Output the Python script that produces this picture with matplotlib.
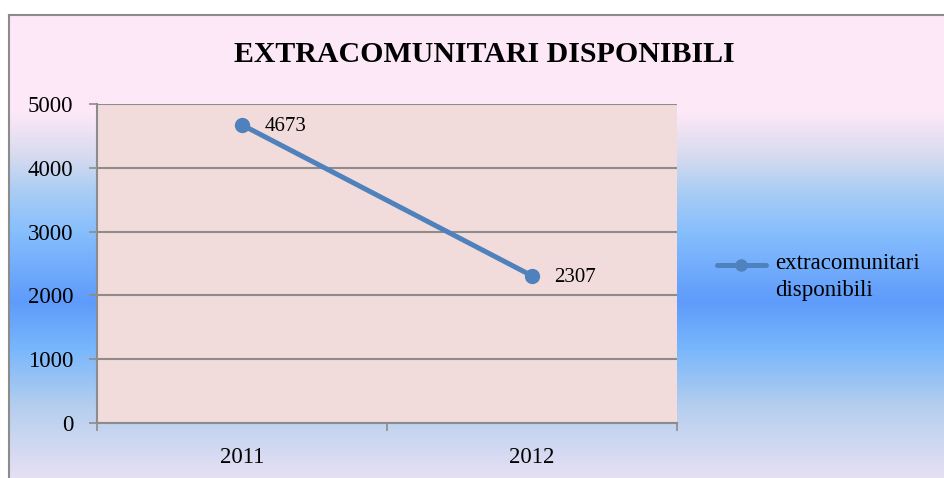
#!/usr/bin/env python3

import numpy as np
import matplotlib
matplotlib.use("Agg")
import matplotlib.pyplot as plt
from matplotlib.colors import LinearSegmentedColormap
from matplotlib.lines import Line2D

# data
years = ["2011", "2012"]
values = [4673, 2307]
series_name = "extracomunitari\ndisponibili"
title = "EXTRACOMUNITARI DISPONIBILI"

plt.rcParams['font.family'] = ['Liberation Serif', 'DejaVu Serif']

W, H = 945, 478
fig = plt.figure(figsize=(W / 100, H / 100), dpi=100)
fig.patch.set_facecolor("white")

# gradient background of the chart frame
fx0, fy0 = 9, 15
bg = fig.add_axes([fx0 / W, 0, 1 - fx0 / W, (H - fy0) / H], zorder=0)
stops = [(0.0, "#fee9f8"), (0.21, "#fde8f7"), (0.30, "#d9dbef"),
         (0.38, "#aacdf4"), (0.47, "#86befd"), (0.62, "#5e9bfb"),
         (0.72, "#78b6fc"), (0.85, "#b6cfee"), (1.0, "#e6e0f4")]
cmap = LinearSegmentedColormap.from_list("bg", stops)
grad = np.linspace(0, 1, 256).reshape(-1, 1)
bg.imshow(grad, aspect="auto", cmap=cmap, extent=[0, 1, 0, 1], origin="upper")
bg.set_xlim(0, 1)
bg.set_ylim(0, 1)
bg.set_xticks([])
bg.set_yticks([])
for s in ["right", "bottom"]:
    bg.spines[s].set_visible(False)
for s in ["top", "left"]:
    bg.spines[s].set_color("#8c8c8c")
    bg.spines[s].set_linewidth(1.5)

# plot area
ax = fig.add_axes([97 / W, 55 / H, 580 / W, 319 / H], zorder=1)
ax.set_facecolor("#f2dcdb")
xs = [0.5, 1.5]
ax.plot(xs, values, color="#4f81bd", lw=3.6, marker="o", markersize=10,
        solid_capstyle="round", zorder=3)
for x, v in zip(xs, values):
    ax.annotate(str(v), (x, v), xytext=(16, -1), textcoords="offset points",
                va="center", ha="left", fontsize=15)

ax.set_xlim(0, 2)
ax.set_ylim(0, 5000)
ax.set_yticks(range(0, 5001, 1000))
ax.set_yticklabels([str(v) for v in range(0, 5001, 1000)], fontsize=16.5)
ax.yaxis.grid(True, color="#8c8c8c", lw=1.5)
ax.set_axisbelow(True)
ax.tick_params(axis="y", length=6, width=1.2, color="#8c8c8c", pad=11)

ax.set_xticks([0, 1, 2])
ax.set_xticklabels([])
ax.set_xticks(xs, minor=True)
ax.set_xticklabels(years, minor=True, fontsize=16.5)
ax.tick_params(axis="x", which="major", length=6, width=1.2, color="#8c8c8c")
ax.tick_params(axis="x", which="minor", length=0, pad=17)

for s in ["right", "top"]:
    ax.spines[s].set_visible(False)
for s in ["left", "bottom"]:
    ax.spines[s].set_color("#8c8c8c")
    ax.spines[s].set_linewidth(1.5)

fig.text(484 / W, 1 - 55 / H, title, ha="center", va="center",
         fontsize=21.5, fontweight="bold")

# legend, handle aligned with the first text line as in the original
leg_y = 1 - 265 / H
fig.add_artist(Line2D([717 / W, 766 / W], [leg_y, leg_y], color="#4f81bd",
                      lw=3.6, solid_capstyle="round"))
fig.add_artist(Line2D([741 / W], [leg_y], color="#4f81bd", marker="o",
                      markersize=8, lw=0))
fig.text(775 / W, 1 - 253 / H, series_name, ha="left", va="top",
         fontsize=16.5, linespacing=1.35)

fig.savefig("out.png", dpi=100)
